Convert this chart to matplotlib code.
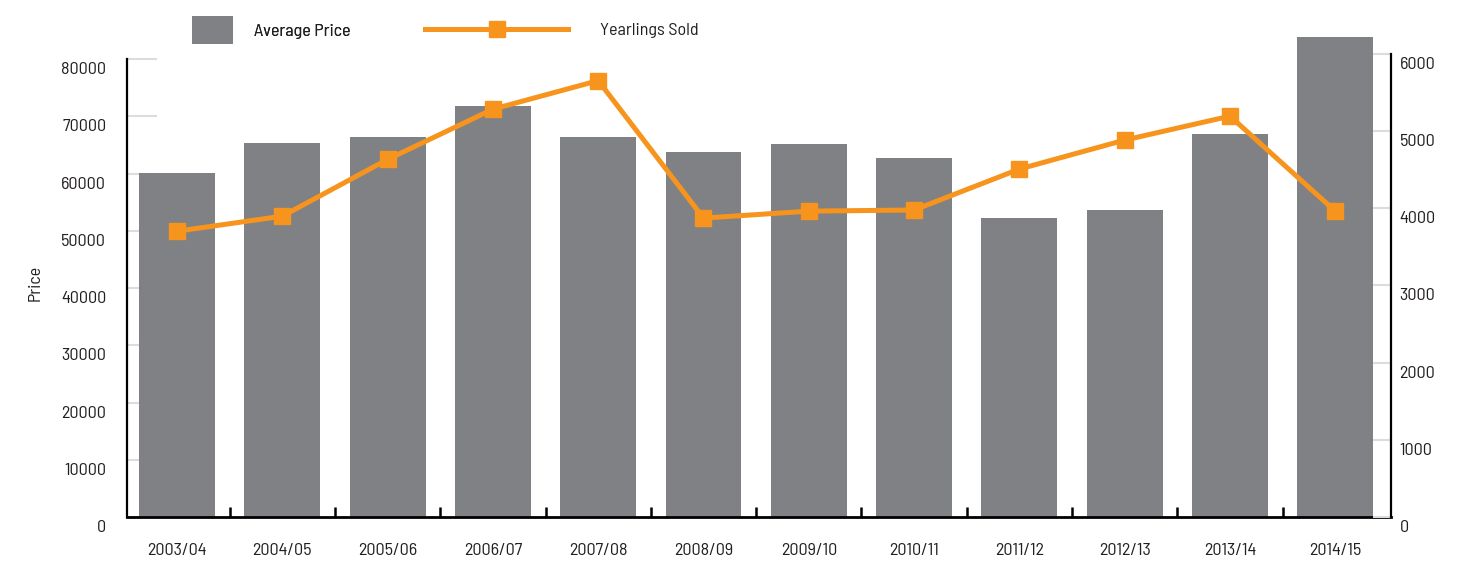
import matplotlib
matplotlib.use('Agg')
import matplotlib.pyplot as plt
import matplotlib.transforms as mtransforms
import numpy as np

seasons = ['2003/04', '2004/05', '2005/06', '2006/07', '2007/08', '2008/09',
           '2009/10', '2010/11', '2011/12', '2012/13', '2013/14', '2014/15']
avg_price = [60100, 65400, 66300, 71850, 66300, 63800,
             65200, 62750, 52300, 53650, 66950, 83900]
yearlings_sold = [3700, 3895, 4630, 5280, 5650, 3870,
                  3960, 3975, 4505, 4880, 5190, 3960]

plt.rcParams['font.family'] = ['Barlow Semi Condensed', 'DejaVu Sans']
text_color = '#231f20'
bar_color = '#808184'
line_color = '#f7941d'
grid_color = '#dcdcdc'
fs = 13

fig = plt.figure(figsize=(14.58, 5.61), dpi=100)
ax = fig.add_axes([0.0871, 0.0784, 0.8670, 0.8674])
ax2 = ax.twinx()

x = np.arange(len(seasons))
bars = ax.bar(x, avg_price, width=0.72, color=bar_color, label='Average Price')
line, = ax2.plot(x, yearlings_sold, color=line_color, lw=3.6, marker='s',
                 markersize=11.5, label='Yearlings Sold')

ax.set_xlim(-0.475, 11.53)
ax.set_ylim(0, 85000)
ax2.set_ylim(0, 6300)
ax.set_axisbelow(True)

for a in (ax, ax2):
    a.spines['top'].set_visible(False)
ax.spines['right'].set_visible(False)
ax2.spines['left'].set_visible(False)
ax2.spines['bottom'].set_visible(False)
ax.spines['left'].set_bounds(0, 80000)
ax2.spines['right'].set_bounds(0, 6000)
ax.spines['left'].set_linewidth(1.6)
ax2.spines['right'].set_linewidth(1.6)
ax.spines['bottom'].set_linewidth(2.0)

# y ticks: short light grey marks pointing inward
ax.set_yticks(np.arange(0, 80001, 10000))
ax.tick_params(axis='y', direction='in', length=21.6, width=1.5,
               color=grid_color, pad=15, labelsize=fs, labelcolor=text_color)
ax2.set_yticks(np.arange(0, 6001, 1000))
ax2.tick_params(axis='y', direction='in', length=13, width=1.5,
                color=grid_color, pad=6, labelsize=fs, labelcolor=text_color)

# x: labels at centers, small black ticks between bars
ax.set_xticks(x)
ax.set_xticklabels(seasons)
ax.tick_params(axis='x', length=0, pad=19, labelsize=fs, labelcolor=text_color)
ax.set_xticks(x[:-1] + 0.5, minor=True)
ax.tick_params(axis='x', which='minor', direction='in', length=7.5, width=1.8,
               color='black')

# numbers sit a bit below their tick marks
shift = mtransforms.ScaledTranslation(0, -9 / 100, fig.dpi_scale_trans)
for lab in ax.get_yticklabels() + ax2.get_yticklabels():
    lab.set_transform(lab.get_transform() + shift)

fig.text(35 / 1458, 1 - 283 / 561, 'Price', rotation=90, ha='center',
         va='center', fontsize=fs, color=text_color)

fs_px = fs / 72 * 100
leg1 = fig.legend(handles=[bars], labels=['Average Price'], loc='center left',
                  bbox_to_anchor=(192 / 1458, 1 - 30 / 561), frameon=False,
                  fontsize=fs, handlelength=41 / fs_px, handleheight=35 / fs_px,
                  handletextpad=21 / fs_px, borderpad=0, borderaxespad=0,
                  labelcolor=text_color)
fig.add_artist(leg1)
fig.legend(handles=[line], labels=['Yearlings Sold'], loc='center left',
           bbox_to_anchor=(425 / 1458, 1 - 30 / 561), frameon=False,
           fontsize=fs, handlelength=143 / fs_px, handletextpad=32 / fs_px,
           borderpad=0, borderaxespad=0, labelcolor=text_color)

fig.savefig('out.png', dpi=100)
